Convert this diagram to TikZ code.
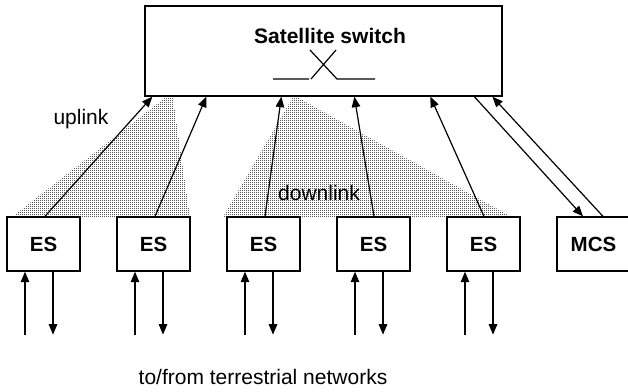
\documentclass[tikz,border=0pt]{standalone}
\usepackage{fontspec}
\setmainfont{Liberation Sans}
\usetikzlibrary{arrows.meta,patterns,calc}
% fine grid of small square dots for the antenna beams
\pgfdeclarepatternformonly{finedots}{\pgfqpoint{-0.1pt}{-0.1pt}}{\pgfqpoint{2.1pt}{2.1pt}}{\pgfqpoint{2pt}{2pt}}{%
  \pgfpathrectangle{\pgfpointorigin}{\pgfqpoint{1.25pt}{1.25pt}}\pgfusepath{fill}}

\begin{document}
\begin{tikzpicture}[x=1pt,y=-1pt,
  box/.style={draw,line width=1.3pt,fill=white,inner sep=0pt,
    minimum width=73pt,minimum height=54pt,
    font=\fontsize{20.5}{24}\selectfont\bfseries},
  link/.style={line width=1.2pt,-{Triangle[length=10.5pt,width=8.5pt]}},
  beam/.style={pattern=finedots,pattern color=gray!70!black},
  lbl/.style={inner sep=0pt,font=\fontsize{21}{25}\selectfont}
]
\useasboundingbox (0,0) rectangle (628,391);

% beams
\fill[beam] (12,217) -- (166,97) -- (173,97) -- (190,217) -- cycle;
\fill[beam] (223,217) -- (293,97) -- (297,97) -- (512,217) -- cycle;

% satellite switch
\node[draw,line width=1.3pt,inner sep=0pt,minimum width=357pt,minimum height=90pt] (sat) at (323.5,51) {};
\node[lbl,font=\fontsize{21}{25}\selectfont\bfseries] (title) at (330,36) {Satellite switch};
\draw[line width=1.2pt] (273,79) -- (309,79) (311,79) -- (336,50) (310,50) -- (337,79) -- (375,79);

% earth stations and control station
\foreach \i in {1,...,5}
  \node[box] (es\i) at ({43.5+110*(\i-1)},244) {ES};
\node[box] (mcs) at (593.5,244) {MCS};

% uplinks
\foreach \i/\a/\b in {1/1.5/8, 2/1.5/62, 3/1.5/137, 4/0.5/210, 5/0.5/286}
  \draw[link] ([xshift=\a pt]es\i.north) -- ([xshift=\b pt]sat.south west);

% control station links
\draw[link] ([xshift=330pt]sat.south west) -- ([xshift=-10.5pt]mcs.north);
\draw[link] ([xshift=9.5pt]mcs.north) -- ([xshift=348pt]sat.south west);

% terrestrial connections
\foreach \i in {1,...,5}{
  \coordinate (src\i) at ($(es\i.south)+(-18.5,63)$);
  \coordinate (dst\i) at ($(es\i.south)+(9.5,63)$);
  \draw[link] (src\i) -- ([xshift=-18.5pt]es\i.south);
  \draw[link] ([xshift=9.5pt]es\i.south) -- (dst\i);
}

% labels
\node[lbl] (up) at (81,119) {uplink};
\node[lbl] (down) at (319,193) {downlink};
\node[lbl] (net) at (263,377) {to/from terrestrial networks};
\end{tikzpicture}
\end{document}
